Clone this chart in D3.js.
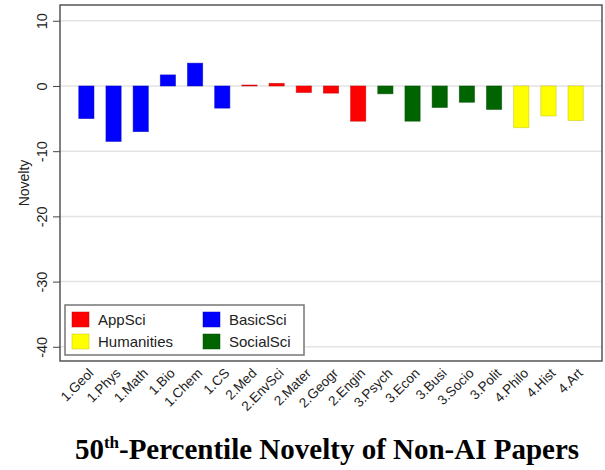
<!DOCTYPE html>
<html><head><meta charset="utf-8">
<script src="https://cdn.jsdelivr.net/npm/d3@7"></script>
<style>body{margin:0;background:#fff}svg{display:block}</style>
</head><body><svg id="c" width="605" height="470"></svg>
<script>
const categories = ["1.Geol","1.Phys","1.Math","1.Bio","1.Chem","1.CS","2.Med","2.EnvSci","2.Mater","2.Geogr","2.Engin","3.Psych","3.Econ","3.Busi","3.Socio","3.Polit","4.Philo","4.Hist","4.Art"];
const values = [-5.0,-8.5,-7.0,1.7,3.5,-3.4,0.15,0.4,-1.0,-1.1,-5.4,-1.2,-5.4,-3.3,-2.5,-3.6,-6.4,-4.6,-5.3];
const groups = ["BasicSci","BasicSci","BasicSci","BasicSci","BasicSci","BasicSci","AppSci","AppSci","AppSci","AppSci","AppSci","SocialSci","SocialSci","SocialSci","SocialSci","SocialSci","Humanities","Humanities","Humanities"];
const legendOrder = ["AppSci","BasicSci","Humanities","SocialSci"];
const groupColors = {AppSci:"#ff0000",BasicSci:"#0000ff",Humanities:"#ffff00",SocialSci:"#006400"};
const yTicks = [10,0,-10,-20,-30,-40];
const title = "Percentile Novelty of Non-AI Papers";

const svg = d3.select("#c");
const L=60,R=602,T=5,B=361;
const y = d3.scaleLinear().domain([12.42,-42.18]).range([T,B]);
const x = d3.scaleBand().domain(categories).range([L,R]).paddingInner(0.44).paddingOuter(0.69);
const sans = "Liberation Sans, Arial, Helvetica, sans-serif";

// gridlines
svg.append("g").selectAll("line").data(yTicks).join("line")
  .attr("x1",L).attr("x2",R).attr("y1",d=>y(d)).attr("y2",d=>y(d))
  .attr("stroke","#e3e3e3").attr("stroke-width",1.5);

// bars
svg.append("g").selectAll("rect").data(categories).join("rect")
  .attr("x",d=>x(d)).attr("width",x.bandwidth())
  .attr("y",(d,i)=>y(Math.max(0,values[i])))
  .attr("height",(d,i)=>Math.abs(y(values[i])-y(0)))
  .attr("fill",(d,i)=>groupColors[groups[i]])
  .attr("stroke",(d,i)=>d3.color(groupColors[groups[i]]).darker(0.8))
  .attr("stroke-opacity",0.6).attr("stroke-width",0.8);

// frame
svg.append("rect").attr("x",L).attr("y",T).attr("width",R-L).attr("height",B-T)
  .attr("fill","none").attr("stroke","#555").attr("stroke-width",1.5);

// y axis
const ya = svg.append("g").attr("transform",`translate(${L},0)`)
  .call(d3.axisLeft(y).tickValues(yTicks).tickSize(7).tickFormat(d=>String(d)));
ya.select(".domain").remove();
ya.selectAll("line").attr("stroke","#444");
ya.selectAll(".tick text").attr("font-family",sans).attr("font-size",14.5).attr("fill","#222")
  .attr("text-anchor","middle").attr("transform","rotate(-90)").attr("x",0).attr("y",-18).attr("dy","0.35em");

svg.append("text").attr("transform",`translate(24,${(T+B)/2}) rotate(-90)`)
  .attr("text-anchor","middle").attr("dy","0.35em")
  .attr("font-family",sans).attr("font-size",14).attr("fill","#222").text("Novelty");

// x labels
const xa = svg.append("g").attr("transform",`translate(0,${B})`)
  .call(d3.axisBottom(x).tickSize(0).tickSizeOuter(0));
xa.select(".domain").remove();
xa.selectAll("text").attr("font-family",sans).attr("font-size",13.5).attr("fill","#222")
  .attr("text-anchor","end").attr("y",0).attr("dy",0)
  .attr("transform","translate(8,13) rotate(-45)");

// legend
const lg = svg.append("g");
lg.append("rect").attr("x",65).attr("y",305).attr("width",239).attr("height",50)
  .attr("fill","#fff").attr("stroke","#777").attr("stroke-width",1.5);
const lpos = [[72,312],[203,312],[72,334],[203,334]];
legendOrder.forEach((g,i)=>{
  const [px,py]=lpos[i];
  lg.append("rect").attr("x",px).attr("y",py).attr("width",17).attr("height",15)
    .attr("fill",groupColors[g]).attr("stroke",d3.color(groupColors[g]).darker(0.8)).attr("stroke-opacity",0.6).attr("stroke-width",0.8);
  lg.append("text").attr("x",px+26).attr("y",py+12.5).attr("font-family",sans)
    .attr("font-size",15).attr("fill","#222").text(g);
});

// title
const tt = svg.append("text").attr("x",327).attr("y",459).attr("text-anchor","middle")
  .attr("font-family","Liberation Serif, Times New Roman, serif").attr("font-weight","bold").attr("font-size",29).attr("fill","#000");
tt.append("tspan").text("50");
tt.append("tspan").attr("font-size",17).attr("dy",-11).text("th");
tt.append("tspan").attr("dy",11).text("-"+title);
</script></body></html>
